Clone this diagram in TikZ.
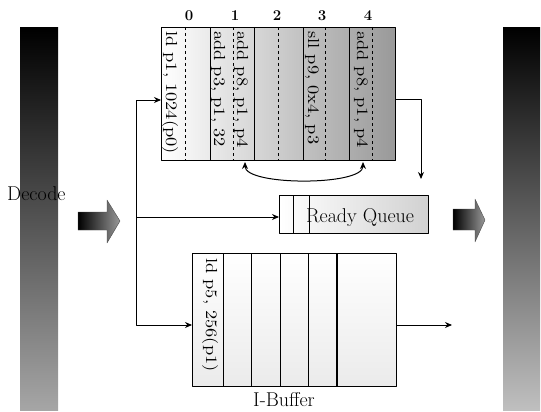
\documentclass[tikz,border=0pt]{standalone}
\usepackage{fontspec}
\newfontfamily\instrfont{lmroman10-regular.otf}[FakeStretch=1.15]
\usetikzlibrary{arrows.meta}

\tikzset{
  stagebar/.style={top color=black, bottom color=black!35, draw=none},
  blockarrow/.style={left color=black, right color=black!40, draw=black!70, line width=0.4pt},
  box/.style={draw, line width=1.2pt, minimum width=#1, anchor=north west, inner sep=0pt},
  instr/.style={rotate=-90, anchor=west, inner sep=0pt, font=\instrfont\fontsize{16}{18}\selectfont},
  idx/.style={font=\bfseries\fontsize{15}{17}\selectfont, inner sep=0pt},
  lbl/.style={font=\fontsize{20}{22}\selectfont, inner sep=0pt},
  conn/.style={line width=0.9pt, ->},
}

\begin{document}
\begin{tikzpicture}[x=1pt, y=-1pt, >={Stealth[length=7pt,width=6pt]}, line join=round]
\useasboundingbox (0,0) rectangle (541,412);

% Stufenregister links und rechts
\shade[stagebar] (20,28) rectangle (58,410);
\shade[stagebar, bottom color=black!25] (503,28) rectangle (540,410);
\node[lbl, anchor=base west] (dec) at (7,200) {Decode};

% Blockpfeile
\shade[blockarrow] (78,212) -- (107,212) -- (107,200) -- (120,221) -- (107,243) -- (107,230) -- (78,230) -- cycle;
\shade[blockarrow] (453,209) -- (475,209) -- (475,199) -- (485,220) -- (475,242) -- (475,230) -- (453,230) -- cycle;

% Fenster
\node[box=234pt, minimum height=133pt, left color=white, right color=black!40] (win) at (161,27) {};
\foreach \x in {210,254,303,349}
  \draw[line width=0.9pt] (\x,27) -- (\x,160);
\foreach \x/\lx/\n in {185/189/0,233/235/1,278/277/2,325/322/3,372/368/4} {
  \draw[dashed, line width=0.6pt] (\x,27) -- (\x,160);
  \node[idx] (i\n) at (\lx,16) {\n};
}
\node[instr] (w0) at (170,31) {ld p1, 1024(p0)};
\node[instr] (w1a) at (218,31) {add p3, p1, 32};
\node[instr] (w1b) at (241,31) {add p8, p1, p4};
\node[instr] (w3) at (312,31) {sll p9, 0x4, p3};
\node[instr] (w4) at (361,31) {add p8, p1, p4};

% Abhaengigkeit
\coordinate (cl) at (245,162);
\coordinate (cr) at (363,162);
\draw[<->, line width=1pt] (cl) .. controls ([yshift=-24pt]cl) and ([yshift=-24pt]cr) .. (cr);

% Ready Queue
\node[box=149pt, minimum height=38pt, left color=white, right color=black!18] (rq) at (279,195) {};
\draw[line width=0.6pt] (293,195) -- (293,233);
\draw[line width=0.6pt] (309,195) -- (309,233);
\node[lbl, anchor=base] (rqt) at (360,222) {Ready Queue};

% I-Buffer
\node[box=204pt, minimum height=133pt, top color=white, bottom color=black!8] (ib) at (192,253) {};
\foreach \x in {223,251,280,308}
  \draw[line width=0.7pt] (\x,253) -- (\x,386);
\draw[line width=1.2pt] (337,253) -- (337,386);
\node[instr] (b0) at (210,258) {ld p5, 256(p1)};
\node[lbl, anchor=base] (ibl) at (284,406) {I-Buffer};

% Verbindungen
\coordinate (fork) at (136,217);
\draw[conn] (fork) |- ([yshift=-73pt]win.north west);
\draw[conn] (fork) |- ([yshift=-72pt]ib.north west);
\draw[conn] (fork) -- (fork -| rq.west);
\coordinate (qin) at (421,179);
\draw[conn] ([yshift=-72pt]win.north east) -| (qin);
\coordinate (ibout) at (452,325);
\draw[conn] ([yshift=-72pt]ib.north east) -- (ibout);

\end{tikzpicture}
\end{document}
